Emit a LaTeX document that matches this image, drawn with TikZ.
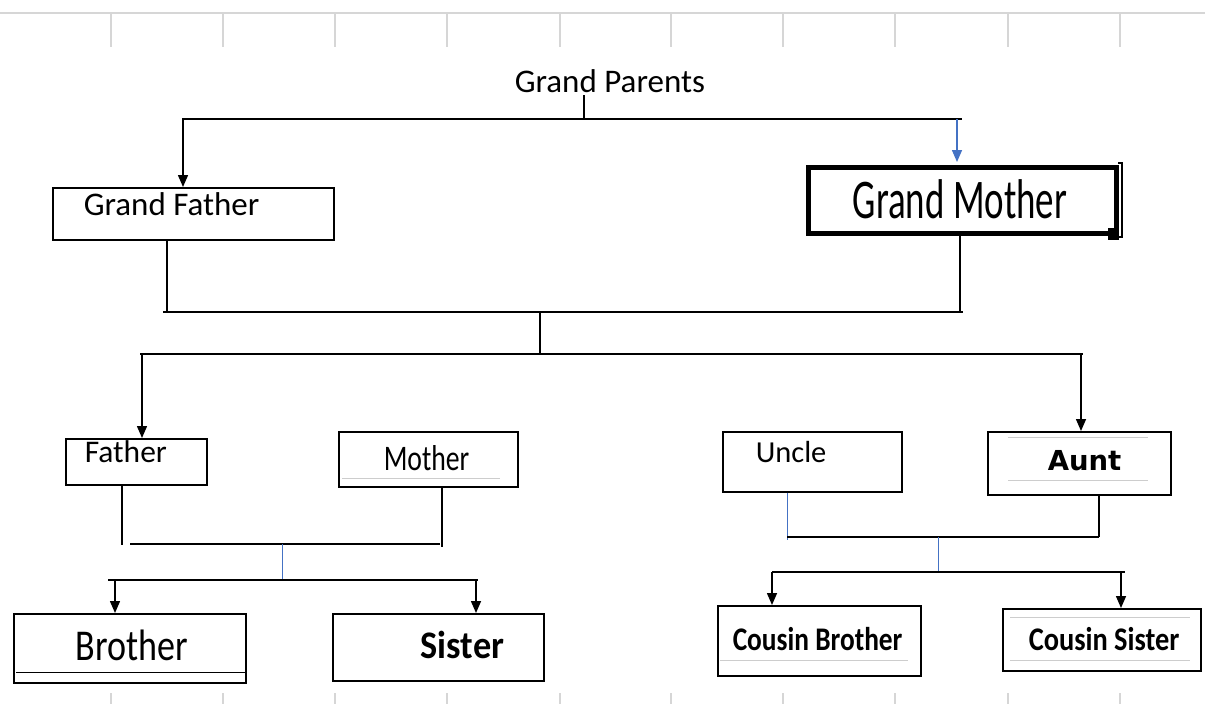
\documentclass[tikz,border=0pt]{standalone}
\usepackage{fontspec}
\setmainfont{Carlito}
\newfontfamily\dejavu{DejaVu Sans}
\usetikzlibrary{arrows.meta}
\definecolor{officeblue}{RGB}{68,114,196}
\definecolor{gridgray}{RGB}{214,214,214}
\definecolor{faintgray}{RGB}{205,205,205}
\newcommand{\fs}[1]{\fontsize{#1}{#1}\selectfont}
\begin{document}
\begin{tikzpicture}[x=1pt,y=-1pt,
	line width=1.5pt,
	box/.style={draw=black,line width=1.5pt,inner sep=0pt,anchor=north west},
	lbl/.style={inner sep=0pt,anchor=base west},
	tip/.style={-{Triangle[length=12pt,width=10pt]}},
	faint/.style={draw=faintgray,line width=1pt}]
	\useasboundingbox (0,0) rectangle (1205,704);
	% sheet grid behind the chart
	\draw[gridgray,line width=1.2pt] (0,13) -- (1205,13);
	\foreach \gx in {111,223,335,447,560,671,783,895,1008,1120} {
		\draw[gridgray,line width=1.2pt] (\gx,13) -- (\gx,47);
		\draw[gridgray,line width=1.2pt] (\gx,693) -- (\gx,704);
	}
	% boxes
	\node[box,minimum width=281pt,minimum height=52pt] (gf) at (52,187) {};
	\node[box,line width=5pt,minimum width=308pt,minimum height=66pt] (gm) at (805.5,164.5) {};
	\node[box,minimum width=141pt,minimum height=46pt] (fa) at (65,438) {};
	\node[box,minimum width=179pt,minimum height=55pt] (mo) at (338,431) {};
	\node[box,minimum width=179pt,minimum height=60pt] (un) at (722,431) {};
	\node[box,minimum width=183pt,minimum height=63pt] (au) at (987,431) {};
	\node[box,minimum width=232pt,minimum height=69pt] (br) at (13,613) {};
	\node[box,minimum width=211pt,minimum height=67pt] (si) at (332,613) {};
	\node[box,minimum width=203pt,minimum height=70pt] (cb) at (717,605) {};
	\node[box,minimum width=198pt,minimum height=62pt] (cs) at (1002,608) {};
	% labels
	\node[lbl] (gpt) at (514,92) {\fs{33}Grand Parents};
	\node[lbl] (gft) at (83,215) {\fs{33}Grand Father};
	\node[lbl] (gmt) at (852,218) {\scalebox{0.66}[1]{\fs{56}Grand Mother}};
	\node[lbl] (fat) at (84,462) {\fs{31.5}Father};
	\node[lbl] (mot) at (383,470) {\scalebox{0.77}[1]{\fs{36}Mother}};
	\node[lbl] (unt) at (755,462) {\fs{30.5}Uncle};
	\node[lbl] (aut) at (1047,470) {\dejavu\bfseries\fs{27.5}Aunt};
	\node[lbl] (brt) at (75,660) {\scalebox{0.82}[1]{\fs{44}Brother}};
	\node[lbl] (sit) at (420,658) {\scalebox{0.93}[1]{\bfseries\fs{39}Sister}};
	\node[lbl] (cbt) at (732,650) {\scalebox{0.83}[1]{\bfseries\fs{33}Cousin Brother}};
	\node[lbl] (cst) at (1028,650) {\scalebox{0.86}[1]{\bfseries\fs{33}Cousin Sister}};
	% box details
	\draw (br.south west) ++(3,-11) -- ++(229,0);
	\fill (1108,228) rectangle (1119,240);
	\draw[line width=1.2pt] (1118,163) -- (1122,163) -- (1122,237) -- (1118,237);
	\draw[faint] (342,478) -- (500,478);
	\draw[faint] (1008,437) -- (1148,437);
	\draw[faint] (1008,480) -- (1148,480);
	\draw[faint] (720,660) -- (908,660);
	\draw[faint] (1010,617) -- (1190,617);
	\draw[faint] (1010,660) -- (1190,660);
	% bus coordinates
	\coordinate (gpbus) at (584,119);
	\coordinate (gpl) at (182,119);
	\coordinate (gpr) at (962,119);
	\coordinate (pbus) at (540,312);
	\coordinate (cbus) at (540,354);
	\coordinate (fbus) at (282,544);
	\coordinate (kbus) at (282,580);
	\coordinate (ubus) at (938,537);
	\coordinate (ckbus) at (938,572);
	% grand parents
	\draw (gpbus) -- (584,95);
	\draw (gpl) -- (gpr);
	\draw[tip] (183,119) -- (183,187);
	\draw[tip,officeblue] (957,119) -- (957,162);
	% grand father and grand mother
	\draw (gf.south -| 167,0) -- (167,312);
	\draw (gm.south -| 960,0) -- (960,312);
	\draw (163,312) -- (963,312);
	\draw (pbus) -- (cbus);
	\draw (140,354) -- (1083,354);
	\draw[tip] (142,354) -- (fa.north -| 142,0);
	\draw[tip] (1081,354) -- (au.north -| 1081,0);
	% father and mother
	\draw (fa.south -| 122,0) -- (122,545);
	\draw (mo.south -| 442,0) -- (442,547);
	\draw (130,544) -- (440,544);
	\draw[officeblue,line width=1pt] (fbus) -- (kbus);
	\draw (108,580) -- (478,580);
	\draw[tip] (115,580) -- (br.north -| 115,0);
	\draw[tip] (476,580) -- (si.north -| 476,0);
	% uncle and aunt
	\draw[officeblue,line width=1pt] (un.south -| 787,0) -- (787,540);
	\draw (au.south -| 1099,0) -- (1099,537);
	\draw (787,537) -- (1099,537);
	\draw[officeblue,line width=1pt] (ubus) -- (ckbus);
	\draw (772,572) -- (1125,572);
	\draw[tip] (772,572) -- (cb.north -| 772,0);
	\draw[tip] (1121,572) -- (cs.north -| 1121,0);
\end{tikzpicture}
\end{document}
